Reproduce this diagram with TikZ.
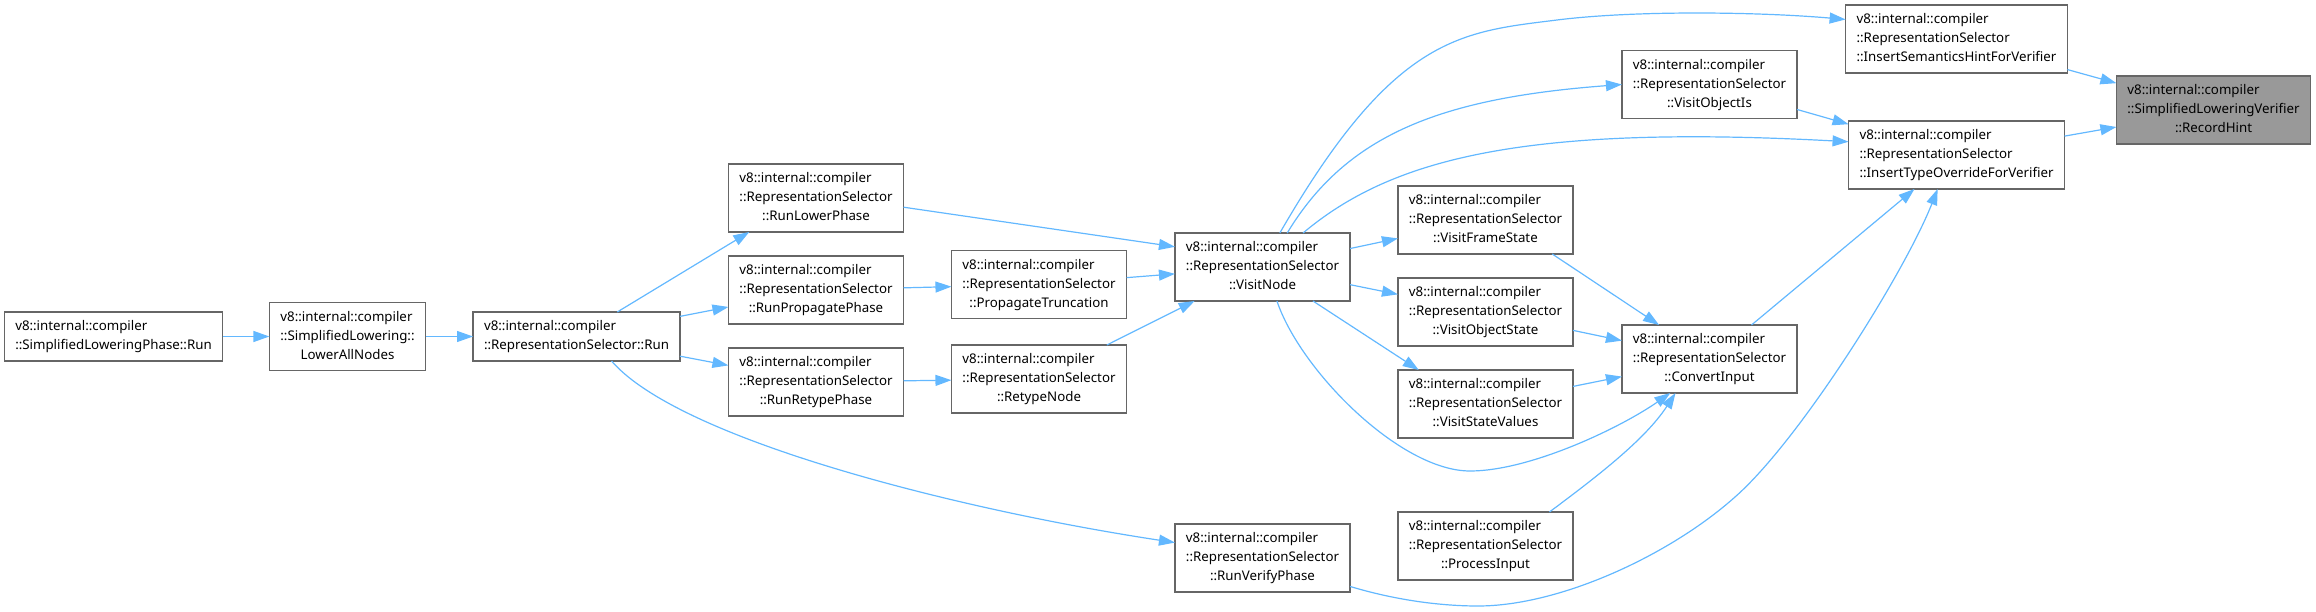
\documentclass[tikz,border=0pt]{standalone}
\usepackage{fontspec}
\setmainfont{Noto Sans}
\usetikzlibrary{arrows.meta}
\definecolor{edgeblue}{HTML}{63B8FF}
\definecolor{boxline}{HTML}{666666}
\definecolor{hintfill}{HTML}{999999}
\newcommand{\fnlabel}[2]{\begin{tabular}{@{}l@{}}#1\\\multicolumn{1}{@{}c@{}}{#2}\end{tabular}}
\newcommand{\rslabel}[1]{\fnlabel{v8::internal::compiler\\::RepresentationSelector}{::#1}}
\begin{document}
\begin{tikzpicture}[x=1pt,y=-1pt,
  fn/.style={draw=boxline,line width=1.4pt,fill=white,inner xsep=11pt,inner ysep=5.5pt,outer sep=0pt,font=\fontsize{13.3}{19}\selectfont},
  edge/.style={draw=edgeblue,line width=1.2pt,-{Triangle[length=16pt,width=11pt]}}]
\useasboundingbox (0,0) rectangle (2316,612);
\node[fn] (slp) at (113.5,336.5) {\fnlabel{v8::internal::compiler}{::SimplifiedLoweringPhase::Run}};
\node[fn] (lan) at (347.5,336.5) {\fnlabel{v8::internal::compiler\\::SimplifiedLowering::}{LowerAllNodes}};
\node[fn] (rsr) at (576.5,336.5) {\fnlabel{v8::internal::compiler}{::RepresentationSelector::Run}};
\node[fn] (rlp) at (816,198) {\rslabel{RunLowerPhase}};
\node[fn] (rpp) at (816,290) {\rslabel{RunPropagatePhase}};
\node[fn] (rrp) at (816,382) {\rslabel{RunRetypePhase}};
\node[fn] (pt) at (1039,284.5) {\rslabel{PropagateTruncation}};
\node[fn] (rn) at (1039,379) {\rslabel{RetypeNode}};
\node[fn] (vn) at (1262.5,267) {\rslabel{VisitNode}};
\node[fn] (rvp) at (1262.5,558) {\rslabel{RunVerifyPhase}};
\node[fn] (vfs) at (1485.5,220) {\rslabel{VisitFrameState}};
\node[fn] (vos) at (1485.5,312) {\rslabel{VisitObjectState}};
\node[fn] (vsv) at (1485.5,404) {\rslabel{VisitStateValues}};
\node[fn] (pi) at (1485.5,546) {\rslabel{ProcessInput}};
\node[fn] (ci) at (1709.5,359) {\rslabel{ConvertInput}};
\node[fn] (voi) at (1709.5,84.5) {\rslabel{VisitObjectIs}};
\node[fn] (ish) at (1956.5,39) {\rslabel{InsertSemanticsHintForVerifier}};
\node[fn] (ito) at (1956.5,155) {\rslabel{InsertTypeOverrideForVerifier}};
\node[fn,fill=hintfill] (rh) at (2213.5,110) {\fnlabel{v8::internal::compiler\\::SimplifiedLoweringVerifier}{::RecordHint}};
\draw[edge] (slp) -- (lan);
\draw[edge] (lan) -- (rsr);
\draw[edge] (rsr.31) -- (rlp.207);
\draw[edge] (rsr) -- (rpp);
\draw[edge] (rsr) -- (rrp);
\draw[edge] (rsr.-35) .. controls (680,440) and (960,510) .. (rvp.170);
\draw[edge] (rlp.-6) -- (vn.167);
\draw[edge] (rpp) -- (pt);
\draw[edge] (rrp) -- (rn);
\draw[edge] (pt) -- (vn);
\draw[edge] (rn) -- (vn);
\draw[edge] (vn) -- (vfs);
\draw[edge] (vn) -- (vos);
\draw[edge] (vn.-34) -- (vsv.153);
\draw[edge] (vn.-67) .. controls (1300,370) and (1400,471) .. (1470,471) .. controls (1530,471) and (1620,428) .. (ci.221);
\draw[edge] (vn.63) .. controls (1394,35) and (1461,32) .. (1557,20) .. controls (1637,10) and (1760,12) .. (ish.170);
\draw[edge] (vn.54) .. controls (1347,134) and (1442,98) .. (voi.west);
\draw[edge] (vn.40) .. controls (1390,160) and (1520,124) .. (ito.173);
\draw[edge] (vfs.-27) -- (ci.146);
\draw[edge] (vos) -- (ci);
\draw[edge] (vsv) -- (ci);
\draw[edge] (pi.28) .. controls (1595,478) and (1645,440) .. (ci.225);
\draw[edge] (ci.39) -- (ito.219);
\draw[edge] (rvp.-18) .. controls (1395,600) and (1440,606) .. (1478,606) .. controls (1560,606) and (1670,555) .. (1735,497) .. controls (1800,440) and (1905,272) .. (ito.241);
\draw[edge] (voi) -- (ito);
\draw[edge] (ish) -- (rh);
\draw[edge] (ito) -- (rh);
\end{tikzpicture}
\end{document}
